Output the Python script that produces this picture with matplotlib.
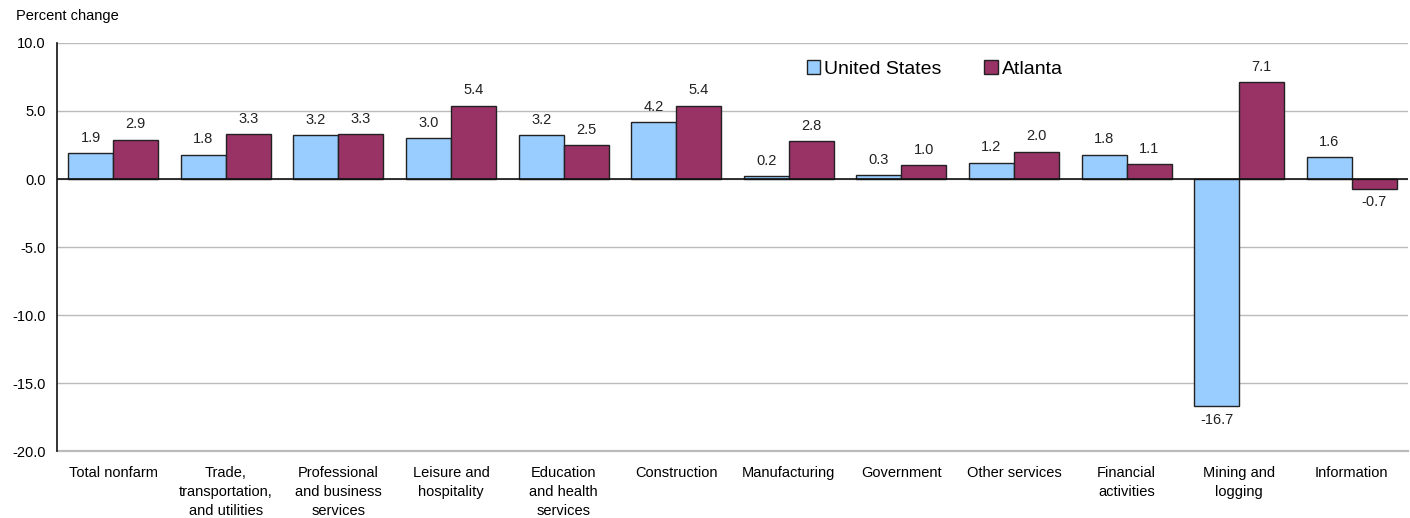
import matplotlib.pyplot as plt
import numpy as np

plt.rcParams["font.family"] = ["Liberation Sans", "DejaVu Sans"]

categories = [
    "Total nonfarm",
    "Trade,\ntransportation,\nand utilities",
    "Professional\nand business\nservices",
    "Leisure and\nhospitality",
    "Education\nand health\nservices",
    "Construction",
    "Manufacturing",
    "Government",
    "Other services",
    "Financial\nactivities",
    "Mining and\nlogging",
    "Information",
]
us_values = [1.9, 1.8, 3.2, 3.0, 3.2, 4.2, 0.2, 0.3, 1.2, 1.8, -16.7, 1.6]
atlanta_values = [2.9, 3.3, 3.3, 5.4, 2.5, 5.4, 2.8, 1.0, 2.0, 1.1, 7.1, -0.7]
y_ticks = [10.0, 5.0, 0.0, -5.0, -10.0, -15.0, -20.0]

us_color = "#99CCFF"
atl_color = "#993366"

fig = plt.figure(figsize=(14.1, 5.18), dpi=100)
ax = fig.add_axes([0.0404, 0.1293, 0.9582, 0.7877])

x = np.arange(len(categories))
w = 0.4
b1 = ax.bar(x - w / 2, us_values, w, color=us_color, edgecolor="#222222",
            linewidth=1.0, label="United States", zorder=3)
b2 = ax.bar(x + w / 2, atlanta_values, w, color=atl_color, edgecolor="#222222",
            linewidth=1.0, label="Atlanta", zorder=3)

for bars, vals in ((b1, us_values), (b2, atlanta_values)):
    for bar, v in zip(bars, vals):
        cx = bar.get_x() + bar.get_width() / 2
        if v >= 0:
            ax.annotate(f"{v:.1f}", (cx, v), xytext=(0, 6), textcoords="offset points",
                        ha="center", va="bottom", fontsize=10.5, color="#222222")
        else:
            ax.annotate(f"{v:.1f}", (cx, v), xytext=(0, -5), textcoords="offset points",
                        ha="center", va="top", fontsize=10.5, color="#222222")

ax.set_xlim(-0.5, len(categories) - 0.5)
ax.set_ylim(-20, 10)
ax.set_yticks(y_ticks)
ax.set_yticklabels([f"{t:.1f}" for t in y_ticks], fontsize=10.5)
ax.set_xticks(x)
ax.set_xticklabels(categories, fontsize=10.5, linespacing=1.45)
ax.tick_params(axis="y", length=0, pad=8)
ax.tick_params(axis="x", length=0, pad=11)

ax.grid(axis="y", color="#BBBBBB", linewidth=1.0, zorder=0)
ax.axhline(-20, color="#BBBBBB", linewidth=1.6, zorder=1, clip_on=False)
ax.axhline(0, color="#111111", linewidth=1.2, zorder=4)
for s in ("top", "right", "bottom"):
    ax.spines[s].set_visible(False)
ax.spines["left"].set_color("#111111")
ax.spines["left"].set_linewidth(1.2)

fig.text(0.011, 0.955, "Percent change", fontsize=10.5, ha="left", va="bottom")

ax.legend(loc="upper left", bbox_to_anchor=(0.542, 1.0), ncol=2, frameon=False,
          fontsize=14, handlelength=0.7, handleheight=0.7, handletextpad=0.2,
          columnspacing=2.2)

fig.savefig("out.png", dpi=100)
